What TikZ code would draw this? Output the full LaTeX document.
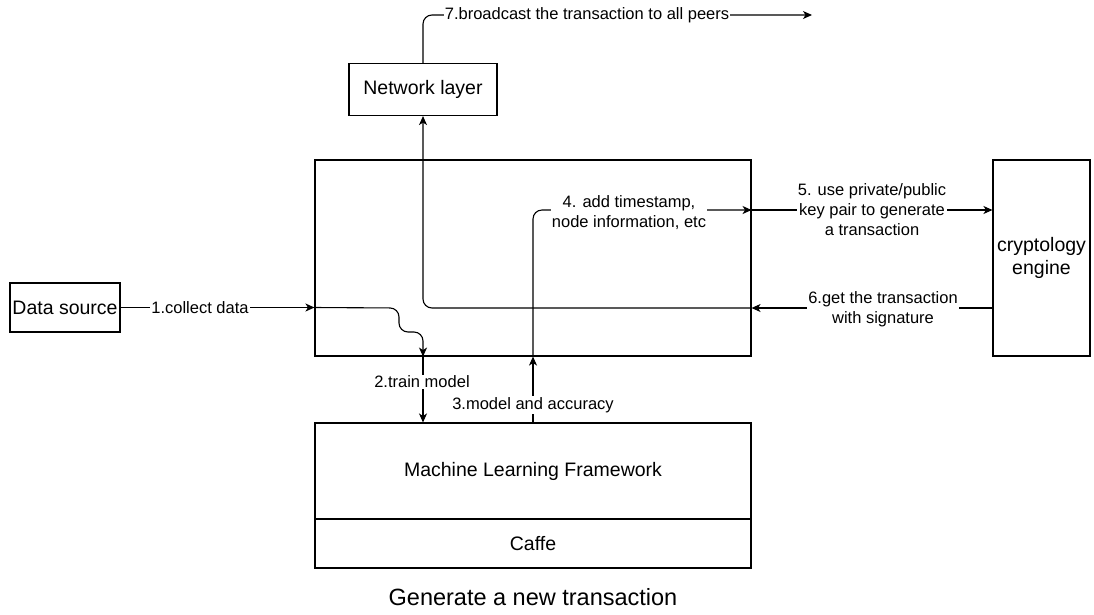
\documentclass[tikz,border=0pt]{standalone}
\usepackage{fontspec}
\setmainfont{Liberation Sans}
\usetikzlibrary{arrows.meta,calc}
\begin{document}
\begin{tikzpicture}[x=1pt,y=-1pt,
  box/.style={draw,line width=1.1pt,rectangle,inner sep=0pt,font=\fontsize{19.5}{23}\selectfont,align=center},
  conn/.style={line width=1.1pt,rounded corners=9pt},
  arr/.style={conn,-{Stealth[length=9pt,width=8pt,inset=2.5pt]}},
  lbl/.style={fill=white,inner sep=1pt,font=\fontsize{16.5}{20}\selectfont,align=center}]
\useasboundingbox (0,0) rectangle (1094,614);
% boxes
\node[box,minimum width=148pt,minimum height=52pt] (net) at (423,89.5) {Network layer};
\node[box,minimum width=436pt,minimum height=196pt] (main) at (533,258) {};
\node[box,minimum width=110pt,minimum height=49pt] (ds) at (65,307.5) {Data source};
\node[box,minimum width=97pt,minimum height=196pt] (crypto) at (1041.5,258) {cryptology\\engine};
\node[box,minimum width=436pt,minimum height=96pt] (ml) at (533,471) {Machine Learning Framework};
\node[box,minimum width=436pt,minimum height=49pt] (caffe) at (533,543.5) {Caffe};
% coordinates
\coordinate (inL) at (ds.east -| main.west);
\coordinate (trainTop) at (net.south |- main.south);
\coordinate (trainBot) at (net.south |- ml.north);
\coordinate (r5) at (main.east |- 0,210);
\coordinate (c5) at (crypto.west |- 0,210);
\coordinate (r6) at (main.east |- 0,308);
\coordinate (c6) at (crypto.west |- 0,308);
\coordinate (bEnd) at (812,15);
% edge 1
\draw[arr] (ds.east) -- (inL);
\draw[arr] (inL) -- (399,308) -- (399,332) -- (423,332) -- (trainTop);
\node[lbl] (l1) at (200,308) {1.collect data};
% edge 2
\draw[arr] (trainTop) -- (trainBot);
\node[lbl] (l2) at (422,382) {2.train model};
% edge 3
\draw[arr] (ml.north) -- (main.south);
\node[lbl] (l3) at (533,405) {3.model and accuracy};
% edge 4
\draw[arr] (main.south) -- (533,210) -- (r5);
\node[lbl] (l4) at (629,213) {4. add timestamp,\\node information, etc};
% edge 5
\draw[arr] (r5) -- (c5);
\node[lbl] (l5) at (872,210) {5. use private/public\\key pair to generate\\a transaction};
% edge 6
\draw[arr] (c6) -- (r6);
\node[lbl] (l6) at (883,309) {6.get the transaction\\with signature};
\draw[arr] (r6) -- (423,308) -- (net.south);
% edge 7
\draw[arr] (net.north) -- (423,15) -- (bEnd);
\node[lbl] (l7) at (587,15) {7.broadcast the transaction to all peers};
% title
\node[font=\fontsize{23.5}{28}\selectfont] (title) at (533,597) {Generate a new transaction};
\end{tikzpicture}
\end{document}
